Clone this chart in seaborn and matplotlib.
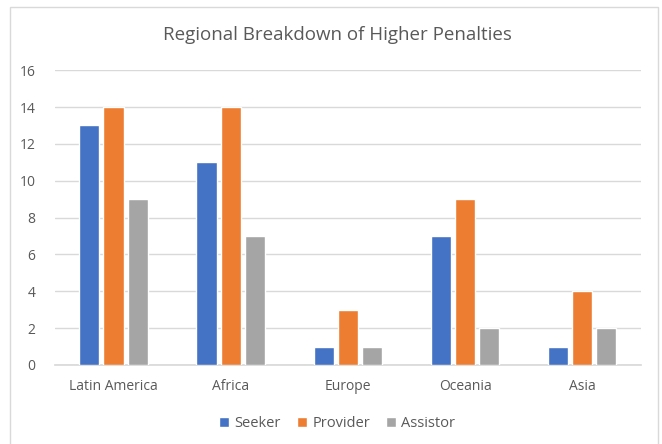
import pandas as pd
import matplotlib
matplotlib.use("Agg")
import matplotlib.pyplot as plt
import seaborn as sns
from matplotlib.patches import Rectangle

# 数据
regions = ["Latin America", "Africa", "Europe", "Oceania", "Asia"]
seeker = [13, 11, 1, 7, 1]
provider = [14, 14, 3, 9, 4]
assistor = [9, 7, 1, 2, 2]
roles = ["Seeker", "Provider", "Assistor"]
colors = ["#4472C4", "#ED7D31", "#A5A5A5"]

df = pd.DataFrame({"Region": regions, "Seeker": seeker,
                   "Provider": provider, "Assistor": assistor})
long_df = df.melt(id_vars="Region", value_vars=roles,
                  var_name="Role", value_name="Count")

sns.set_theme(style="white")
plt.rcParams['font.family'] = ['Open Sans', 'DejaVu Sans']

fig = plt.figure(figsize=(6.62, 4.44), dpi=100)
ax = fig.add_axes([0.083, 0.178, 0.885, 0.664])

sns.barplot(data=long_df, x="Region", y="Count", hue="Role",
            hue_order=roles, palette=colors, width=0.62, gap=0.17,
            saturation=1, ax=ax, zorder=3)

ax.set_ylim(0, 16)
ax.set_yticks(range(0, 17, 2))
ax.yaxis.grid(True, color="#D9D9D9", linewidth=1, zorder=0)
ax.set_xlabel("")
ax.set_ylabel("")
for s in ["top", "right", "left"]:
    ax.spines[s].set_visible(False)
ax.spines["bottom"].set_color("#D9D9D9")
ax.tick_params(axis="both", length=0, labelsize=10, colors="#595959", pad=10)
ax.tick_params(axis="y", pad=14)

# 标题
fig.text(337 / 662, 1 - 35 / 444, "Regional Breakdown of Higher Penalties",
         fontsize=13.5, color="#595959", ha="center", va="center")

ax.legend(loc="upper center", bbox_to_anchor=(0.482, -0.13), ncol=3,
          frameon=False, fontsize=10.5, handlelength=0.7, handleheight=0.7,
          handletextpad=0.35, columnspacing=1.1, labelcolor="#595959")

# 外边框
fig.patches.append(Rectangle((10 / 662, -0.01), 648 / 662, 1 - 7 / 444 + 0.01,
                             transform=fig.transFigure, fill=False,
                             edgecolor="#D9D9D9", linewidth=1))

fig.savefig("out.png", dpi=100)
